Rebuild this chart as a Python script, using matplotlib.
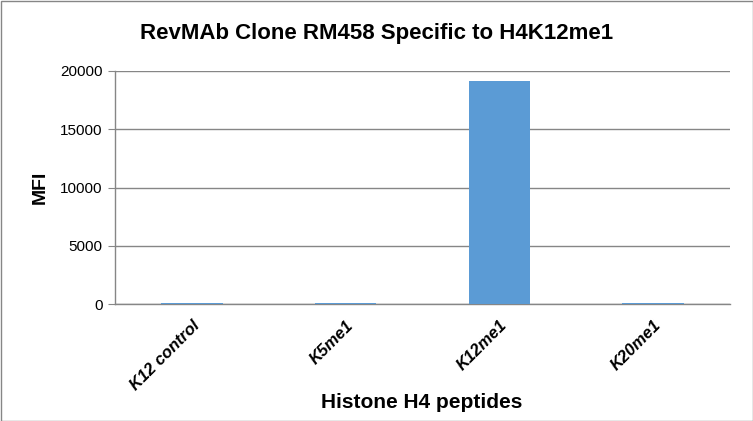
import matplotlib
matplotlib.use("Agg")
import matplotlib.pyplot as plt
from matplotlib.patches import Rectangle

categories = ["K12 control", "K5me1", "K12me1", "K20me1"]
values = [80, 80, 19100, 80]
yticks = [0, 5000, 10000, 15000, 20000]

plt.rcParams['font.family'] = ['Liberation Sans', 'DejaVu Sans']

fig = plt.figure(figsize=(7.53, 4.21), dpi=100)
ax = fig.add_axes([115/753, 1-304/421, (730-115)/753, (304-71)/421])

x = range(len(categories))
ax.bar(x, values, width=0.4, color="#5B9BD5", zorder=3)
ax.set_xlim(-0.5, len(categories) - 0.5)
ax.set_ylim(0, 20000)
ax.set_yticks(yticks)
ax.set_yticklabels([str(v) for v in yticks], fontsize=11)
ax.set_xticks(list(x))
ax.set_xticklabels(categories, rotation=45, ha="right", rotation_mode="anchor",
                   fontsize=12, fontweight="bold", fontstyle="italic")
ax.tick_params(axis="x", length=0, pad=10)
ax.tick_params(axis="y", length=5, color="#868686", pad=4)
ax.grid(axis="y", color="#868686", linewidth=1, zorder=0)
for s in ["top", "right"]:
    ax.spines[s].set_visible(False)
for s in ["left", "bottom"]:
    ax.spines[s].set_color("#868686")
    ax.spines[s].set_linewidth(1)

ax.set_ylabel("MFI", fontsize=14, fontweight="bold", va="center")
ax.set_xlabel("Histone H4 peptides", fontsize=15, fontweight="bold", va="center")
ax.xaxis.set_label_coords((422 - 115) / 615, (304 - 403) / 233)
ax.yaxis.set_label_coords((40 - 115) / 615, 0.5)
fig.text(377/753, 1-33/421, "RevMAb Clone RM458 Specific to H4K12me1",
         ha="center", va="center", fontsize=16, fontweight="bold")

fig.patches.append(Rectangle((0.5/753, 0.5/421), 752/753, 420/421, transform=fig.transFigure,
                             fill=False, edgecolor="#868686", linewidth=1))
fig.savefig("out.png", dpi=100)
